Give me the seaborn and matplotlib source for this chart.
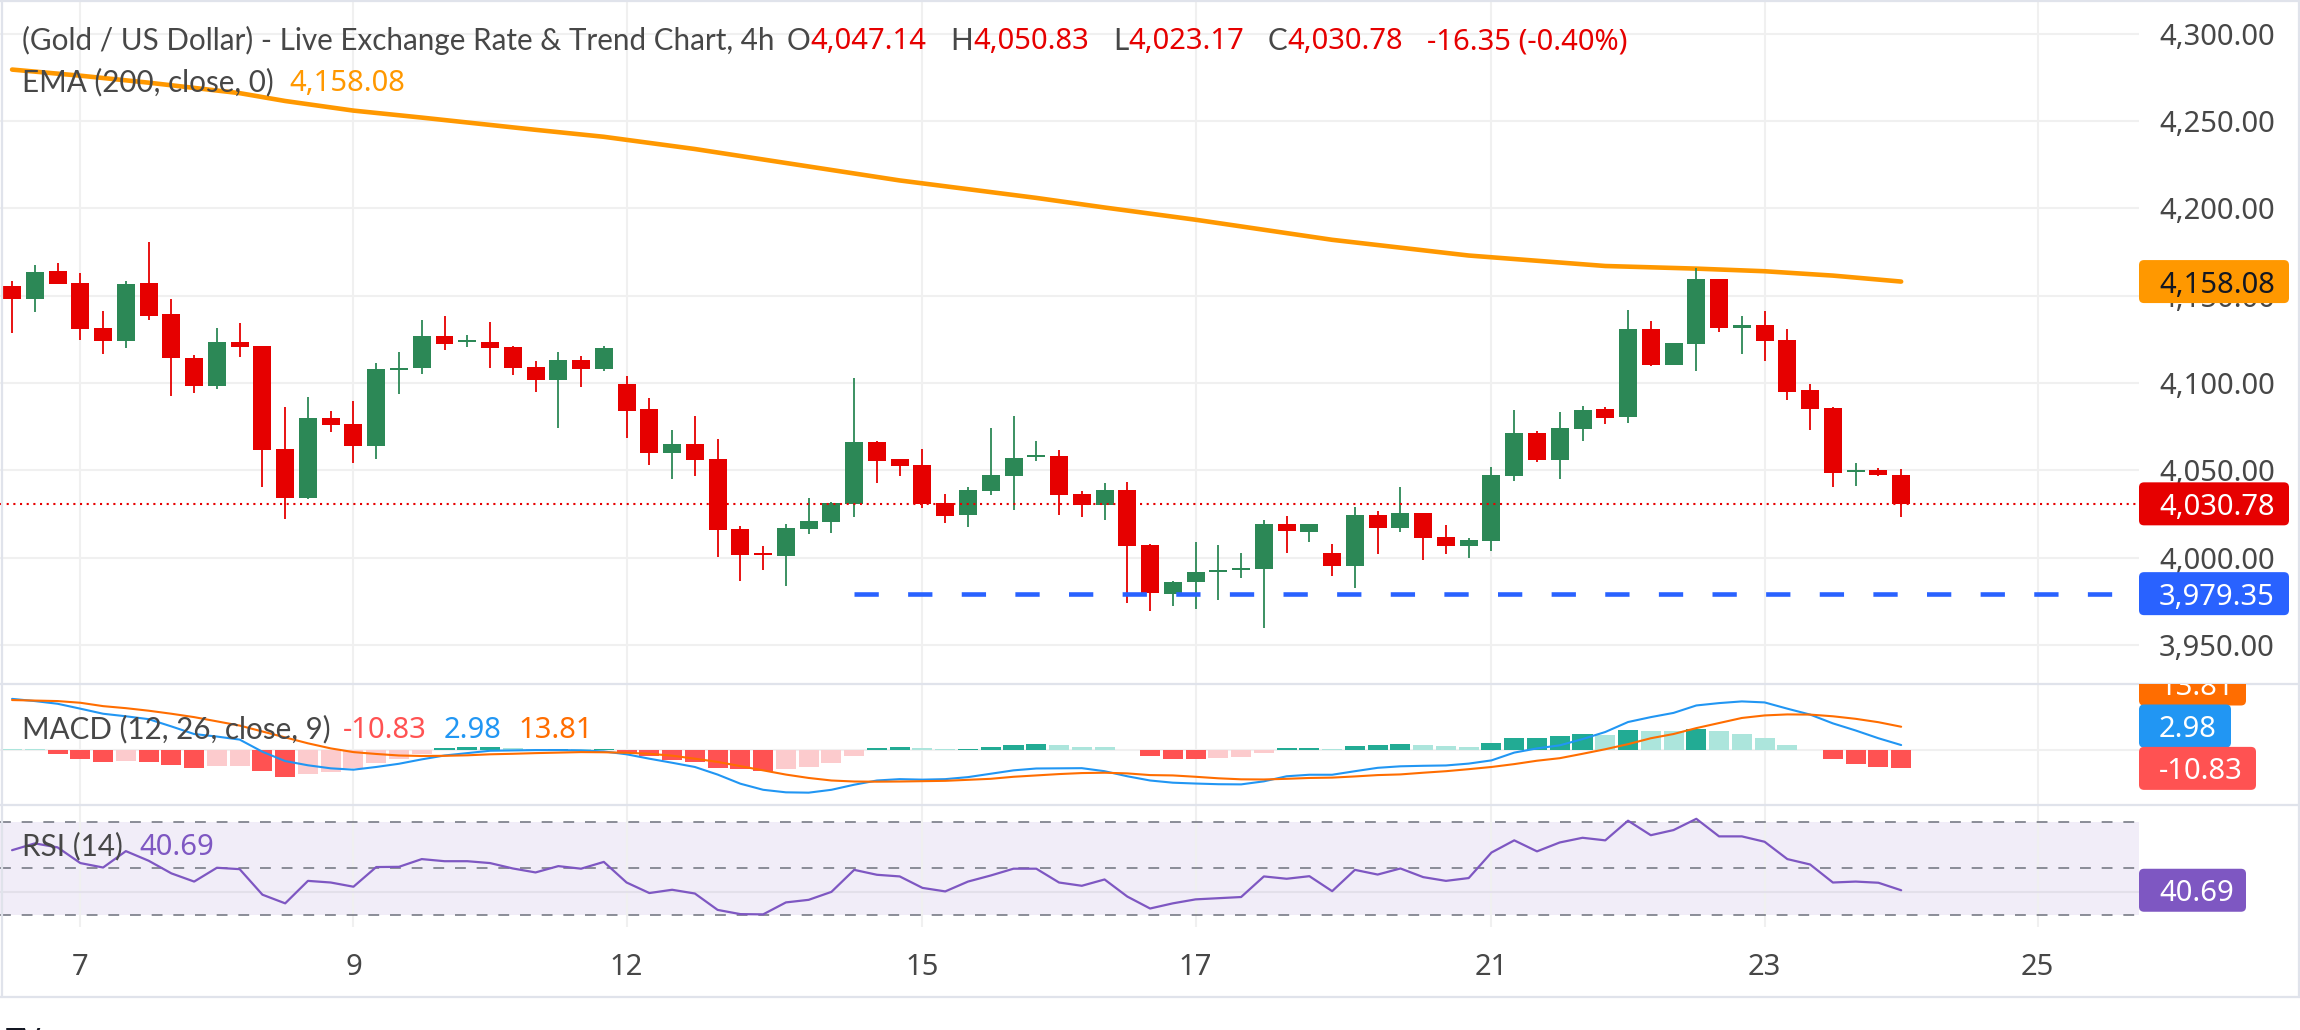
import numpy as np
import matplotlib
matplotlib.use("Agg")
import matplotlib.pyplot as plt
from matplotlib.patches import FancyBboxPatch
from matplotlib.lines import Line2D
from matplotlib.transforms import IdentityTransform, Bbox
import seaborn as sns

# ---------------------------
# data (4h candles)
# ---------------------------
opens = [4155.5, 4148.2, 4164.1, 4157.2, 4131.4, 4124.2, 4157.2, 4139.5, 4114.3, 4098.4,
         4123.4, 4121.1, 4062.1, 4034.3, 4079.9, 4076.5, 4064.1, 4107.5, 4108.7, 4126.9,
         4123.5, 4123.4, 4120.6, 4109.1, 4101.9, 4113.1, 4108.2, 4099.4, 4085.1, 4060.0,
         4065.0, 4056.4, 4016.3, 4002.6, 4001.0, 4016.3, 4020.3, 4030.6, 4066.1, 4056.4,
         4053.0, 4031.2, 4024.3, 4038.1, 4046.7, 4057.6, 4058.1, 4036.4, 4030.1, 4038.7,
         4007.2, 3979.3, 3986.0, 3991.7, 3992.8, 3993.6, 4019.2, 4014.6, 4002.6, 3995.3,
         4024.3, 4016.9, 4025.5, 4011.8, 4006.8, 4009.6, 4046.7, 4071.3, 4055.9, 4073.6,
         4085.0, 4080.5, 4130.9, 4110.4, 4122.3, 4159.5, 4131.6, 4133.4, 4124.5, 4095.8,
         4085.6, 4049.0, 4050.0, 4047.14]
highs = [4158.4, 4167.5, 4168.7, 4162.9, 4141.2, 4158.4, 4180.7, 4148.1, 4116.0, 4131.4,
         4134.3, 4121.1, 4086.2, 4091.9, 4083.9, 4089.6, 4111.4, 4117.7, 4136.0, 4138.3,
         4127.4, 4134.9, 4121.1, 4112.5, 4117.7, 4115.4, 4121.1, 4103.9, 4091.4, 4073.0,
         4081.0, 4067.9, 4017.9, 4006.6, 4019.2, 4034.1, 4031.8, 4102.8, 4066.7, 4056.4,
         4062.1, 4036.4, 4040.4, 4074.2, 4081.0, 4066.7, 4061.6, 4038.1, 4042.7, 4043.2,
         4007.7, 3986.5, 4008.9, 4007.2, 4002.6, 4021.5, 4023.8, 4019.2, 4007.7, 4028.9,
         4026.6, 4040.4, 4025.5, 4018.6, 4011.2, 4051.9, 4084.5, 4072.4, 4083.3, 4086.8,
         4086.2, 4141.7, 4135.5, 4122.9, 4165.8, 4159.5, 4138.3, 4141.1, 4130.8, 4099.4,
         4086.1, 4054.1, 4051.1, 4050.83]
lows = [4128.8, 4140.8, 4156.9, 4124.8, 4116.7, 4120.2, 4136.2, 4092.7, 4094.4, 4096.7,
        4115.0, 4040.6, 4022.2, 4033.7, 4072.1, 4054.1, 4056.6, 4093.8, 4105.3, 4118.9,
        4120.8, 4108.7, 4104.7, 4094.8, 4074.2, 4097.7, 4107.0, 4068.6, 4053.0, 4045.0,
        4046.7, 4000.5, 3986.5, 3992.8, 3983.7, 4013.5, 4014.0, 4023.2, 4042.7, 4046.7,
        4028.3, 4019.8, 4017.5, 4035.8, 4027.2, 4055.3, 4024.3, 4023.2, 4021.5, 3974.1,
        3969.6, 3972.4, 3970.7, 3975.9, 3988.5, 3959.9, 4002.8, 4009.1, 3989.6, 3982.7,
        4002.2, 4014.6, 3998.8, 4002.2, 3999.9, 4003.9, 4044.0, 4054.7, 4045.0, 4066.7,
        4076.5, 4077.0, 4109.9, 4110.4, 4107.0, 4129.3, 4116.7, 4112.7, 4090.4, 4073.3,
        4040.6, 4041.1, 4047.0, 4023.17]
closes = [4148.2, 4163.5, 4156.9, 4131.1, 4124.2, 4156.6, 4138.5, 4114.5, 4098.4, 4123.4,
          4120.8, 4061.8, 4034.3, 4079.9, 4076.1, 4064.1, 4108.0, 4108.5, 4126.9, 4122.5,
          4124.5, 4120.2, 4108.7, 4101.9, 4113.1, 4108.2, 4120.0, 4084.1, 4060.0, 4065.0,
          4055.8, 4015.7, 4001.6, 4001.6, 4016.9, 4020.9, 4031.2, 4066.1, 4055.3, 4052.4,
          4030.6, 4023.8, 4038.7, 4047.2, 4057.0, 4058.6, 4035.8, 4030.1, 4038.7, 4006.8,
          3979.9, 3986.0, 3991.7, 3992.8, 3994.0, 4019.2, 4015.2, 4019.2, 3995.3, 4024.3,
          4016.9, 4025.5, 4011.4, 4006.8, 4010.0, 4047.3, 4071.3, 4055.9, 4074.2, 4084.5,
          4079.9, 4130.9, 4110.4, 4122.9, 4159.5, 4131.6, 4133.0, 4124.2, 4095.0, 4085.3,
          4048.5, 4050.0, 4047.13, 4030.78]

# EMA 200 read at a few candles
ema_idx = [0, 3, 6, 10, 12, 15, 18, 23, 26, 30, 33, 36, 39, 42, 45, 48, 52, 58, 64, 70, 74, 77, 80, 83]
ema_val = [4279.5, 4276.0, 4272.0, 4266.0, 4261.5, 4256.0, 4252.0, 4245.0, 4241.0, 4234.0,
           4228.0, 4222.0, 4216.0, 4211.0, 4206.0, 4200.5, 4193.5, 4182.0, 4173.0, 4167.0,
           4165.5, 4164.0, 4161.5, 4158.08]

macd = [30.3, 29.0, 27.4, 24.5, 21.5, 20.0, 18.3, 14.0, 9.5, 8.0,
        6.2, -1.0, -6.5, -9.0, -10.8, -11.6, -10.0, -8.1, -5.5, -3.2,
        -1.8, -0.4, -0.2, 0.0, 0.0, -0.2, -0.8, -2.5, -5.1, -7.5,
        -10.0, -14.5, -19.9, -23.5, -25.0, -25.2, -23.5, -20.5, -18.0, -17.2,
        -17.5, -17.2, -16.0, -14.0, -12.0, -10.9, -10.8, -10.7, -12.5, -15.5,
        -18.0, -19.3, -19.8, -20.2, -20.3, -18.5, -15.5, -14.6, -14.6, -12.5,
        -10.5, -9.6, -9.3, -9.1, -8.0, -6.1, -1.5, 1.0, 2.8, 6.5,
        10.7, 16.6, 19.5, 22.0, 26.4, 27.8, 28.8, 28.2, 24.5, 21.0,
        15.8, 11.6, 7.0, 2.98]
signal = [29.6, 29.3, 29.0, 28.0, 26.0, 24.8, 23.3, 21.5, 19.5, 17.0,
          14.5, 11.0, 7.5, 4.0, 1.0, -1.2, -2.3, -3.2, -3.5, -3.4,
          -3.1, -2.5, -2.2, -1.8, -1.5, -1.2, -1.3, -1.6, -2.2, -3.3,
          -5.1, -7.0, -9.5, -12.0, -14.5, -16.5, -18.0, -18.6, -18.7, -18.6,
          -18.4, -18.2, -17.6, -17.0, -15.8, -15.0, -14.2, -13.6, -13.4, -13.8,
          -14.8, -15.0, -15.8, -16.7, -17.3, -17.4, -17.0, -16.5, -16.3, -15.6,
          -14.8, -14.4, -13.4, -12.5, -11.3, -10.0, -8.3, -6.3, -4.8, -2.2,
          0.5, 3.5, 7.0, 9.5, 13.0, 16.0, 19.0, 20.5, 21.1, 21.0,
          20.0, 18.5, 16.5, 13.81]
hist = [0.6, 0.4, -2.2, -5.1, -6.9, -6.3, -7.1, -8.9, -10.4, -9.5,
        -9.3, -12.4, -15.8, -14.2, -13.0, -10.7, -7.9, -5.1, -2.4, 1.4,
        1.6, 1.8, 1.2, 0.7, 0.9, 0.5, 0.8, -1.6, -3.6, -5.9,
        -6.9, -10.4, -11.4, -12.4, -11.1, -9.9, -7.5, -3.4, 1.4, 1.6,
        1.0, 0.4, 0.9, 1.8, 3.0, 3.5, 3.0, 1.8, 1.7, 0.2,
        -3.6, -5.1, -5.2, -4.6, -3.9, -1.6, 1.2, 1.4, 0.6, 2.4,
        3.0, 3.5, 3.0, 2.4, 1.8, 4.1, 7.0, 7.2, 8.3, 9.5,
        8.9, 11.8, 11.3, 11.1, 12.4, 11.3, 9.5, 7.1, 3.0, 0.2,
        -5.1, -8.1, -9.9, -10.83]
rsi = [57.8, 60.7, 59.0, 52.3, 50.4, 57.4, 53.3, 47.9, 44.4, 50.3,
       49.7, 38.8, 35.1, 44.7, 44.0, 42.2, 50.6, 50.7, 54.0, 53.1,
       53.1, 52.3, 50.0, 48.3, 51.0, 49.9, 52.8, 44.0, 39.5, 40.9,
       39.3, 32.3, 30.5, 30.4, 35.5, 36.6, 40.0, 49.4, 47.3, 46.6,
       41.7, 40.2, 44.4, 47.0, 49.9, 49.9, 44.0, 42.6, 45.3, 38.0,
       32.9, 35.1, 36.8, 37.3, 37.8, 46.6, 45.6, 46.7, 40.3, 49.4,
       47.4, 50.0, 46.3, 44.7, 45.9, 56.8, 62.0, 57.3, 61.1, 63.1,
       62.0, 70.4, 64.2, 66.4, 71.2, 63.7, 63.7, 61.4, 54.0, 51.7,
       44.0, 44.4, 43.9, 40.69]

support = 3979.35
support_start = 37
price_ticks = [3950, 4000, 4050, 4100, 4150, 4200, 4250, 4300]
day_ticks = [3, 15, 27, 40, 52, 65, 77, 89]
day_labels = ["7", "9", "12", "15", "17", "21", "23", "25"]

# ---------------------------
# style
# ---------------------------
W, H = 2300, 1030
sns.set_theme(style="white")
plt.rcParams["font.family"] = ["Noto Sans", "DejaVu Sans"]   # numbers
WORDS = ["Lato", "DejaVu Sans"]                              # words

GREEN = "#2C8856"
RED = "#E60000"
ORANGE = "#FF9800"
TXT = "#474747"
GRID = "#F0F0F0"
FS = 21
FS_W = 21.3

fig = plt.figure(figsize=(W / 100, H / 100), dpi=100)


def box(x0, y0, x1, y1):
    return [x0 / W, 1 - y1 / H, (x1 - x0) / W, (y1 - y0) / H]


ax = fig.add_axes(box(0, 2, 2139, 684))
ax_m = fig.add_axes(box(0, 684, 2139, 805))
ax_r = fig.add_axes(box(0, 805, 2139, 927))
XLIM = (-0.53, 93.45)

for a in (ax, ax_m, ax_r):
    a.set_xlim(*XLIM)
    a.set_facecolor("white")
    for s in a.spines.values():
        s.set_visible(False)
    for t in day_ticks:
        a.axvline(t, color=GRID, lw=1.5, zorder=0.5)

# ---------------------------
# main panel: candles + EMA
# ---------------------------
idx = np.arange(len(closes))
o = np.array(opens)
c = np.array(closes)
col = np.where(c >= o, GREEN, RED)

for p in price_ticks:
    ax.axhline(p, color=GRID, lw=1.5, zorder=0)

ax.vlines(idx, lows, highs, colors=col, lw=1.3, zorder=3)
ax.bar(idx, np.maximum(np.abs(c - o), 0.9), bottom=np.minimum(o, c),
       width=0.79, color=col, linewidth=0, zorder=4)

sns.lineplot(x=ema_idx, y=ema_val, ax=ax, color=ORANGE, linewidth=3.3, zorder=2)

ax.axhline(closes[-1], color=RED, lw=1.5, ls=(0, (1, 2.2)), zorder=6)
ax.axhline(support, xmin=(support_start - XLIM[0]) / (XLIM[1] - XLIM[0]), xmax=1,
           color="#2962FF", lw=3.3, ls=(0, (5.3, 6.4)), zorder=6)

ax.set_ylim(3927.6, 4318.2)
ax.yaxis.tick_right()
ax.set_yticks(price_ticks)
ax.set_yticklabels([f"{p:,.2f}" for p in price_ticks])
ax.tick_params(axis="y", length=0, pad=14.4, labelsize=FS, labelcolor=TXT)
ax.set_xticks([])
ax.set_xlabel("")
ax.set_ylabel("")

# ---------------------------
# MACD panel
# ---------------------------
hcol = []
prev = hist[0]
for h in hist:
    if h >= 0:
        hcol.append("#22AB94" if h > prev else "#ACE5DC")
    else:
        hcol.append("#FF5252" if h < prev else "#FCCBCD")
    prev = h

ax_m.axhline(0, color=GRID, lw=1.5, zorder=0)
ax_m.bar(idx, hist, width=0.88, color=hcol, linewidth=0, zorder=2)
sns.lineplot(x=idx, y=macd, ax=ax_m, color="#2196F3", linewidth=1.5, zorder=3)
sns.lineplot(x=idx, y=signal, ax=ax_m, color="#FF6D00", linewidth=1.5, zorder=3)
ax_m.set_ylim(-32.5, 39.1)
ax_m.set_xticks([])
ax_m.set_yticks([])
ax_m.set_xlabel("")
ax_m.set_ylabel("")

# ---------------------------
# RSI panel
# ---------------------------
ax_r.axhspan(30, 70, color="#7E57C2", alpha=0.1, lw=0, zorder=0)
ax_r.axhline(40, color="#E3E0EA", lw=1.5, zorder=0.6)
for lvl in (70, 50, 30):
    ax_r.axhline(lvl, color="#787B86", lw=1.2, ls=(0, (6.5, 6.5)), zorder=1)
sns.lineplot(x=idx, y=rsi, ax=ax_r, color="#7E57C2", linewidth=1.6, zorder=3)
ax_r.set_ylim(25.0, 77.1)
ax_r.set_yticks([])
ax_r.set_xticks(day_ticks)
ax_r.set_xticklabels(day_labels)
ax_r.tick_params(axis="x", length=0, pad=18.5, labelsize=FS, labelcolor=TXT)
ax_r.set_xlabel("")
ax_r.set_ylabel("")

# ---------------------------
# legends / headers
# ---------------------------
renderer = fig.canvas.get_renderer()


def seq(x, y, parts):
    # parts: (text, colour, gap before, is_number)
    for s, colr, gap, num in parts:
        x += gap
        t = fig.text(x, H - y, s, color=colr, ha="left", va="center_baseline",
                     fontsize=FS if num else FS_W,
                     family=plt.rcParams["font.family"] if num else WORDS,
                     transform=IdentityTransform(), zorder=8)
        x = t.get_window_extent(renderer).x1


chg = closes[-1] - closes[-2]
seq(22, 38, [("(Gold / US Dollar) - Live Exchange Rate & Trend Chart, 4h", TXT, 0, False),
             ("O", TXT, 12, False), (f"{opens[-1]:,.2f}", RED, 0, True),
             ("H", TXT, 24, False), (f"{highs[-1]:,.2f}", RED, 0, True),
             ("L", TXT, 24, False), (f"{lows[-1]:,.2f}", RED, 0, True),
             ("C", TXT, 24, False), (f"{closes[-1]:,.2f}", RED, 0, True),
             (f"{chg:+.2f} ({chg / closes[-2] * 100:+.2f}%)", RED, 24, True)])
seq(22, 80, [("EMA (200, close, 0)", TXT, 0, False), (f"{ema_val[-1]:,.2f}", ORANGE, 16, True)])
seq(22, 727, [("MACD (12, 26, close, 9)", TXT, 0, False), (f"{hist[-1]:.2f}", "#FF5252", 12, True),
              (f"{macd[-1]:.2f}", "#2196F3", 17, True), (f"{signal[-1]:.2f}", "#FF6D00", 17, True)])
seq(22, 844, [("RSI (14)", TXT, 0, False), (f"{rsi[-1]:.2f}", "#7E57C2", 17, True)])


# ---------------------------
# price-scale badges
# ---------------------------
def badge(y_disp, text, fc, tc, w, h=43, clip=None):
    p = FancyBboxPatch((2139, y_disp - h / 2), w, h, boxstyle="round,pad=0,rounding_size=5",
                       transform=IdentityTransform(), fc=fc, ec="none", zorder=9)
    fig.add_artist(p)
    t = fig.text(2159, y_disp, text, color=tc, fontsize=FS, ha="left", va="center_baseline",
                 transform=IdentityTransform(), zorder=10)
    if clip is not None:
        p.set_clip_box(clip)
        t.set_clip_box(clip)
        t.set_clip_on(True)


def ydisp(a, v):
    return a.transData.transform((0, v))[1]


badge(ydisp(ax, ema_val[-1]), f"{ema_val[-1]:,.2f}", ORANGE, "#131722", 150)
badge(ydisp(ax, closes[-1]), f"{closes[-1]:,.2f}", RED, "white", 150)
badge(ydisp(ax, support), f"{support:,.2f}", "#2962FF", "white", 150)

macd_clip = Bbox.from_extents(0, H - 805, W, H - 684)
badge(H - 684, f"{signal[-1]:.2f}", "#FF6D00", "white", 107, clip=macd_clip)
badge(H - 726, f"{macd[-1]:.2f}", "#2196F3", "white", 92)
badge(ydisp(ax_m, hist[-1]), f"{hist[-1]:.2f}", "#FF5252", "white", 117)
badge(ydisp(ax_r, rsi[-1]), f"{rsi[-1]:.2f}", "#7E57C2", "white", 107)

# ---------------------------
# frame and separators
# ---------------------------
SEP = "#E0E3EB"
for y in (684, 805, 997, 1):
    fig.add_artist(Line2D([0, W], [H - y, H - y], transform=IdentityTransform(), color=SEP, lw=1.6))
for x in (1.5, W - 1.5):
    fig.add_artist(Line2D([x, x], [H - 997, H], transform=IdentityTransform(), color=SEP, lw=1.6))
fig.text(6, H - 1027, "TV", fontsize=22, weight="bold", color="#131722", va="top",
         transform=IdentityTransform())

fig.savefig("out.png", dpi=100, facecolor="white")
